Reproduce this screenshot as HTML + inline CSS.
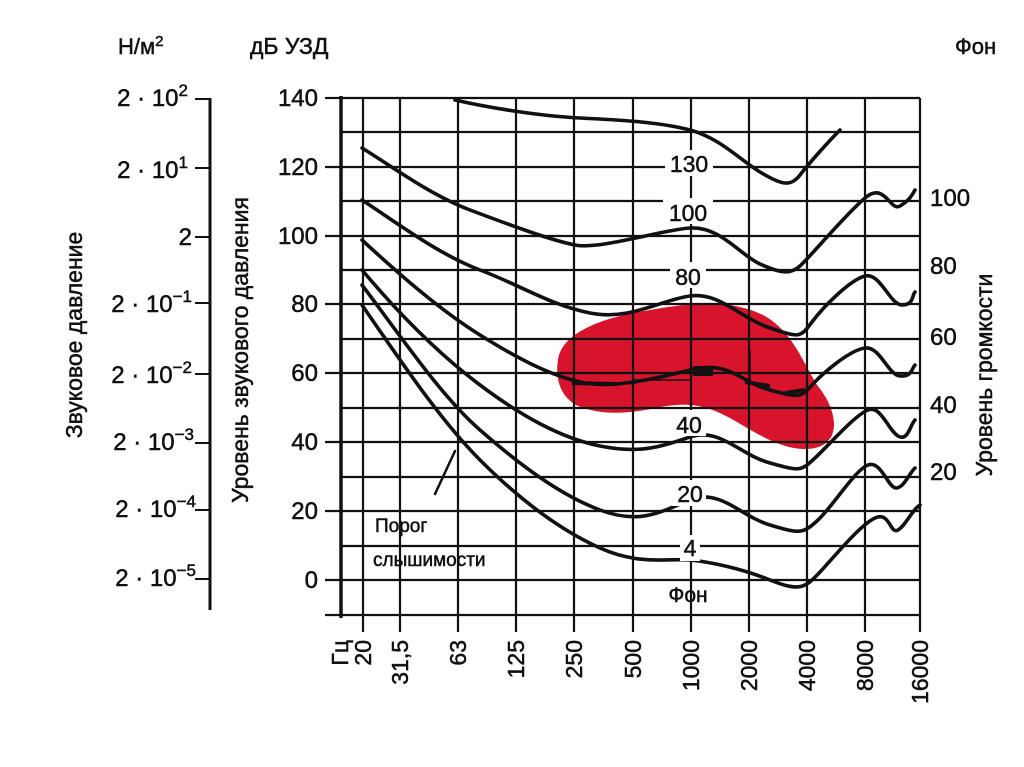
<!DOCTYPE html>
<html><head><meta charset="utf-8"><style>
html,body{margin:0;padding:0;background:#fff;}
svg{display:block;font-family:"Liberation Sans","DejaVu Sans",sans-serif;}
</style></head><body>
<svg width="1024" height="767" viewBox="0 0 1024 767" xmlns="http://www.w3.org/2000/svg">
<rect width="1024" height="767" fill="#fff"/>
<!-- red blob -->
<path d="M558,360 C562,330 610,316 650,310 C690,303 730,298 765,316 C792,332 802,360 817,385 C838,410 842,442 815,448 C785,454 755,432 730,418 C705,405 690,402 660,407 C630,414 600,416 576,405 C560,396 555,378 558,360 Z" fill="#d8142c"/>
<g stroke="#111" fill="none">
<g stroke-width="2.2">
<line x1="341" y1="98" x2="920" y2="98"/>
<line x1="341" y1="132" x2="920" y2="132"/>
<line x1="325" y1="167" x2="920" y2="167"/>
<line x1="341" y1="201" x2="920" y2="201"/>
<line x1="325" y1="236" x2="920" y2="236"/>
<line x1="341" y1="270" x2="920" y2="270"/>
<line x1="325" y1="304" x2="920" y2="304"/>
<line x1="341" y1="339" x2="920" y2="339"/>
<line x1="325" y1="373" x2="920" y2="373"/>
<line x1="341" y1="408" x2="920" y2="408"/>
<line x1="325" y1="442" x2="920" y2="442"/>
<line x1="341" y1="477" x2="920" y2="477"/>
<line x1="325" y1="511" x2="920" y2="511"/>
<line x1="341" y1="546" x2="920" y2="546"/>
<line x1="325" y1="580" x2="920" y2="580"/>
<line x1="325" y1="98" x2="341" y2="98"/>
<line x1="325" y1="615" x2="920" y2="615"/>
</g>
<g stroke-width="2.2">
<line x1="363" y1="98" x2="363" y2="632"/>
<line x1="400" y1="98" x2="400" y2="632"/>
<line x1="458" y1="98" x2="458" y2="632"/>
<line x1="516" y1="98" x2="516" y2="632"/>
<line x1="574" y1="98" x2="574" y2="632"/>
<line x1="633" y1="98" x2="633" y2="632"/>
<line x1="691" y1="98" x2="691" y2="632"/>
<line x1="749" y1="98" x2="749" y2="632"/>
<line x1="807" y1="98" x2="807" y2="632"/>
<line x1="865" y1="98" x2="865" y2="632"/>
<line x1="920" y1="98" x2="920" y2="632"/>
</g>
<line x1="341" y1="96" x2="341" y2="618" stroke-width="3.5"/>
<line x1="210" y1="98" x2="210" y2="610" stroke-width="3"/>
<g stroke-width="2">
<line x1="195" y1="99" x2="210" y2="99"/><line x1="195" y1="168" x2="210" y2="168"/>
<line x1="195" y1="237" x2="210" y2="237"/><line x1="195" y1="303" x2="210" y2="303"/>
<line x1="195" y1="374" x2="210" y2="374"/><line x1="195" y1="443" x2="210" y2="443"/>
<line x1="195" y1="510" x2="210" y2="510"/><line x1="195" y1="579" x2="210" y2="579"/>
</g>
<g stroke-width="3.6" stroke-linecap="round" stroke-linejoin="round">
<path d="M455,100 C490,108 540,116 580,118 S660,122 690,130 S740,160 760,172 S790,188 800,175 S830,140 840,130"/>
<path d="M362,148 C390,165 430,195 470,210 S550,240 575,245 S660,230 690,228 S740,255 760,264 S790,275 800,266 S845,215 865,198 S890,212 900,206 S912,195 915,190"/>
<path d="M362,200 C400,225 440,255 480,270 S550,305 590,313 S660,300 690,296 S740,318 770,328 S800,338 812,322 S850,280 865,276 S890,305 902,305 S912,295 915,292"/>
<path d="M362,240 C400,275 440,310 480,335 S550,375 580,382 S650,380 690,370 S740,382 770,390 S800,398 812,385 S850,350 865,348 S888,375 900,376 S912,368 915,365"/>
<path d="M362,270 C400,315 440,355 480,385 S560,438 600,446 S660,447 690,437 S740,455 770,463 S800,472 815,458 S855,415 868,410 S888,430 898,436 S910,425 915,420"/>
<path d="M362,285 C400,335 440,395 480,430 S560,495 600,510 S660,512 690,500 S740,516 770,525 S803,534 818,520 S855,470 868,465 S888,488 896,488 S910,472 915,468"/>
<path d="M362,305 C400,360 440,420 480,460 S560,530 600,548 S670,558 690,560 S740,568 770,580 S805,588 820,572 S860,525 875,518 S890,535 898,530 S912,510 920,505"/>
<path d="M435,494 L455,451" stroke-width="2.5"/>
</g>
<g stroke-width="4">
<line x1="572" y1="383" x2="615" y2="384"/>
<line x1="745" y1="382" x2="770" y2="386"/>
<line x1="785" y1="393" x2="805" y2="390"/>
</g>
<line x1="632" y1="380" x2="690" y2="380" stroke-width="1.5"/>
<line x1="750" y1="350" x2="750" y2="385" stroke-width="1.5"/>
</g>
<rect x="693" y="366" width="20" height="10" fill="#111"/>
<g fill="#fff">
<rect x="665" y="150" width="48" height="26"/>
<rect x="663" y="198" width="50" height="26"/>
<rect x="670" y="262" width="36" height="26"/>
<rect x="672" y="410" width="34" height="26"/>
<rect x="672" y="480" width="34" height="26"/>
<rect x="680" y="535" width="20" height="26"/>
</g>
<g font-size="23" fill="#111" stroke="#111" stroke-width="0.5">
<text x="689" y="172" text-anchor="middle">130</text>
<text x="688" y="221" text-anchor="middle">100</text>
<text x="688" y="285" text-anchor="middle">80</text>
<text x="689" y="433" text-anchor="middle">40</text>
<text x="690" y="502" text-anchor="middle">20</text>
<text x="690" y="556" text-anchor="middle">4</text>
<text x="688" y="602" text-anchor="middle" font-size="21">Фон</text>
<text x="375" y="532" font-size="19">Порог</text>
<text x="373" y="566" font-size="19">слышимости</text>
<g text-anchor="end" font-size="24">
<text x="318" y="106">140</text><text x="318" y="175">120</text><text x="318" y="244">100</text>
<text x="318" y="312">80</text><text x="318" y="381">60</text><text x="318" y="450">40</text>
<text x="318" y="519">20</text><text x="318" y="588">0</text>
</g>
<g font-size="24">
<text x="930" y="206">100</text><text x="930" y="274">80</text><text x="930" y="345">60</text>
<text x="930" y="413">40</text><text x="930" y="480">20</text>
</g>
<g text-anchor="end" font-size="24">
<text x="188" y="106">2 · 10<tspan dy="-10" font-size="17">2</tspan></text>
<text x="188" y="178">2 · 10<tspan dy="-10" font-size="17">1</tspan></text>
<text x="192" y="245">2</text>
<text x="192" y="312">2 · 10<tspan dy="-10" font-size="17">−1</tspan></text>
<text x="192" y="383">2 · 10<tspan dy="-10" font-size="17">−2</tspan></text>
<text x="194" y="450">2 · 10<tspan dy="-10" font-size="17">−3</tspan></text>
<text x="196" y="517">2 · 10<tspan dy="-10" font-size="17">−4</tspan></text>
<text x="196" y="586">2 · 10<tspan dy="-10" font-size="17">−5</tspan></text>
</g>
<text x="118" y="54" font-size="22">Н/м<tspan dy="-8" font-size="15">2</tspan></text>
<text x="250" y="54" font-size="23">дБ УЗД</text>
<text x="955" y="54" font-size="22">Фон</text>
<text transform="translate(82,335) rotate(-90)" text-anchor="middle" font-size="23">Звуковое давление</text>
<text transform="translate(248,350) rotate(-90)" text-anchor="middle" font-size="23">Уровень  звукового давления</text>
<text transform="translate(992,375) rotate(-90)" text-anchor="middle" font-size="23">Уровень громкости</text>
<g font-size="23" text-anchor="end">
<text transform="translate(348,640) rotate(-90)">Гц</text>
<text transform="translate(371,640) rotate(-90)">20</text>
<text transform="translate(408,640) rotate(-90)">31,5</text>
<text transform="translate(466,640) rotate(-90)">63</text>
<text transform="translate(524,640) rotate(-90)">125</text>
<text transform="translate(582,640) rotate(-90)">250</text>
<text transform="translate(641,640) rotate(-90)">500</text>
<text transform="translate(699,640) rotate(-90)">1000</text>
<text transform="translate(757,640) rotate(-90)">2000</text>
<text transform="translate(815,640) rotate(-90)">4000</text>
<text transform="translate(873,640) rotate(-90)">8000</text>
<text transform="translate(928,640) rotate(-90)">16000</text>
</g>
</g>
</svg>
</body></html>
